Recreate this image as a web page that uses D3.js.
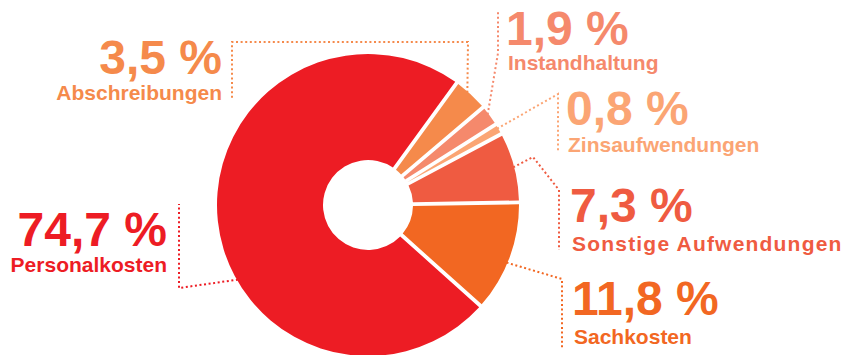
<!DOCTYPE html>
<html>
<head>
<meta charset="utf-8">
<script src="https://cdn.jsdelivr.net/npm/d3@7"></script>
<style>
  body { margin: 0; background: #fff; }
  svg { display: block; }
  text { font-family: "Liberation Sans", Arial, sans-serif; font-weight: bold; }
</style>
</head>
<body>
<svg class="kosten-ch"></svg>
<script>
"use strict";

// data
var categories = ['Abschreibungen', 'Instandhaltung', 'Zinsaufwendungen', 'Sonstige Aufwendungen', 'Sachkosten', 'Personalkosten'];
var values = [3.5, 1.9, 0.8, 7.3, 11.8, 74.7];
var valueLabels = ['3,5 %', '1,9 %', '0,8 %', '7,3 %', '11,8 %', '74,7 %'];
var colors = ['#f58a4b', '#f5896c', '#fba574', '#ef5b41', '#f26722', '#ed1c24'];

// layout of the labels and leader lines
var labelLayout = [
  {x: 222, y: 74, dy: 26, ls: 0, anchor: 'end', t: 0.4, pts: [[468, 42], [232, 42], [232, 100]]},
  {x: 506, y: 45, dy: 25, ls: 0, anchor: 'start', t: 0.4, pts: [[498, 53], [498, 12]]},
  {x: 566, y: 125, dy: 27, ls: 0, anchor: 'start', t: 0.4, pts: [[558, 94], [558, 152]]},
  {x: 570, y: 222, dy: 29, ls: 1.2, anchor: 'start', t: 0.5, pts: [[533, 157], [559, 190], [559, 250]]},
  {x: 572, y: 315, dy: 29, ls: 0, anchor: 'start', t: 0.55, pts: [[562, 279], [562, 348]]},
  {x: 167, y: 246, dy: 26, ls: 0, anchor: 'end', t: 0.41, pts: [[179, 288], [179, 204]]}
];

var width = 859, height = 355;
var cx = 368, cy = 205;
var outerR = 151, innerR = 45;

var svg = d3.select('.kosten-ch')
  .attr('width', width)
  .attr('height', height);

var data = categories.map(function(c, i){
  return {name: c, value: values[i], label: valueLabels[i], color: colors[i], layout: labelLayout[i]};
});

var pie = d3.pie()
  .sort(null)
  .value(function(d){ return d.value; })
  .startAngle(36 * Math.PI / 180)
  .endAngle(36 * Math.PI / 180 + 2 * Math.PI)
  .padAngle(0.024);

var arc = d3.arc()
  .innerRadius(innerR)
  .outerRadius(outerR);

var arcs = pie(data);

var chart = svg.append('g')
  .attr('transform', 'translate(' + cx + ',' + cy + ')');

chart.selectAll('.slice')
  .data(arcs)
  .enter().append('path')
    .attr('class', 'slice')
    .attr('d', arc)
    .style('fill', function(d){ return d.data.color; });

// leader lines, starting at the outer edge of each slice
var line = d3.line();

svg.append('g').selectAll('.leader')
  .data(arcs)
  .enter().append('path')
    .attr('class', 'leader')
    .attr('d', function(d){
      var a = d.startAngle + d.data.layout.t * (d.endAngle - d.startAngle);
      var start = [cx + Math.sin(a) * (outerR - 1), cy - Math.cos(a) * (outerR - 1)];
      return line([start].concat(d.data.layout.pts));
    })
    .style('fill', 'none')
    .style('stroke', function(d){ return d.data.color; })
    .style('stroke-width', 2)
    .style('stroke-dasharray', '2 2.6');

// value + name as one text block per slice
var labels = svg.append('g').selectAll('.label')
  .data(data)
  .enter().append('text')
    .attr('class', 'label')
    .style('fill', function(d){ return d.color; })
    .attr('text-anchor', function(d){ return d.layout.anchor; });

labels.append('tspan')
  .attr('x', function(d){ return d.layout.x; })
  .attr('y', function(d){ return d.layout.y; })
  .style('font-size', '48px')
  .text(function(d){ return d.label; });

labels.append('tspan')
  .attr('x', function(d){ return d.layout.anchor === 'end' ? d.layout.x : d.layout.x + 2; })
  .attr('y', function(d){ return d.layout.y + d.layout.dy; })
  .style('font-size', '21px')
  .style('letter-spacing', function(d){ return d.layout.ls + 'px'; })
  .text(function(d){ return d.name; });
</script>
</body>
</html>
